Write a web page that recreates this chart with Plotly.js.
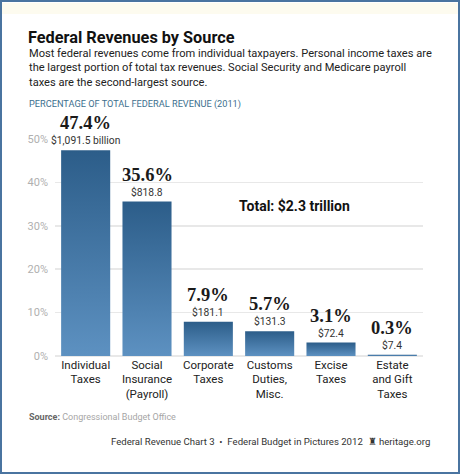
<!DOCTYPE html>
<html>
<head>
<meta charset="utf-8">
<script src="https://cdn.plot.ly/plotly-3.0.1.min.js"></script>
<style>
  html, body { margin: 0; padding: 0; background: #fff; }
  #frame { width: 460px; height: 474px; box-sizing: border-box; border: 2px solid #4a74a0; background: #fff; overflow: hidden; }
  #chart { width: 456px; height: 470px; }
</style>
</head>
<body>
<div id="frame"><div id="chart"></div></div>
<script>
// ---- data ----
const categories = ['Individual Taxes', 'Social Insurance (Payroll)', 'Corporate Taxes', 'Customs Duties, Misc.', 'Excise Taxes', 'Estate and Gift Taxes'];
const tickLabels = ['Individual<br>Taxes', 'Social<br>Insurance<br>(Payroll)', 'Corporate<br>Taxes', 'Customs<br>Duties,<br>Misc.', 'Excise<br>Taxes', 'Estate<br>and Gift<br>Taxes'];
const percentShare = [47.4, 35.6, 7.9, 5.7, 3.1, 0.3];
const dollarLabels = ['$1,091.5 billion', '$818.8', '$181.1', '$131.3', '$72.4', '$7.4'];
const yTickVals = [0, 10, 20, 30, 40, 50];
const yTickText = ['0%', '10%', '20%', '30%', '40%', '50%'];
const totalLabel = 'Total: $2.3 trillion';

// ---- layout geometry (div pixels) ----
const W = 456, H = 470;
const M = { l: 53.35, r: 34.8, t: 137, b: 116 };
const PW = W - M.l - M.r, PH = H - M.t - M.b;
const OFF = 2; // frame border
function px(xPage) { return (xPage - OFF - M.l) / PW; }
function py(yPage) { return (H - M.b - (yPage - OFF)) / PH; }

const SANS = 'Roboto, "Liberation Sans", sans-serif';
const SERIF = '"Liberation Serif", "DejaVu Serif", serif';

const annotations = [];

// value labels above bars
categories.forEach((c, i) => {
  annotations.push({
    x: c, y: percentShare[i], xref: 'x', yref: 'y',
    text: percentShare[i].toFixed(1) + '%', showarrow: false,
    xanchor: 'center', yanchor: 'middle', yshift: 27, borderpad: 0,
    font: { family: SERIF, size: 18.5, color: '#1a1a1a', weight: 'bold' }
  });
  annotations.push({
    x: c, y: percentShare[i], xref: 'x', yref: 'y',
    text: dollarLabels[i], showarrow: false,
    xanchor: 'center', yanchor: 'middle', yshift: 9.5, borderpad: 0,
    font: { family: SANS, size: 10.3, color: '#333' }
  });
});

// total label
annotations.push({
  xref: 'paper', yref: 'paper', x: px(237), y: py(206),
  xanchor: 'left', yanchor: 'middle', showarrow: false,
  text: '<b>' + totalLabel + '</b>',
  font: { family: SANS, size: 14, color: '#111' }
});

// subtitle
annotations.push({
  xref: 'paper', yref: 'paper', x: px(27), y: py(45),
  xanchor: 'left', yanchor: 'top', align: 'left', showarrow: false,
  text: 'Most federal revenues come from individual taxpayers. Personal income taxes are<br>the largest portion of total tax revenues. Social Security and Medicare payroll<br>taxes are the second-largest source.',
  font: { family: SANS, size: 11.1, color: '#222' }
});

// unit heading
annotations.push({
  xref: 'paper', yref: 'paper', x: px(27), y: py(104),
  xanchor: 'left', yanchor: 'middle', showarrow: false,
  text: 'PERCENTAGE OF TOTAL FEDERAL REVENUE (2011)',
  font: { family: SANS, size: 9.2, color: '#3d6f8e' }
});

// source
annotations.push({
  xref: 'paper', yref: 'paper', x: px(27), y: py(417),
  xanchor: 'left', yanchor: 'middle', showarrow: false,
  text: '<b>Source:</b> <span style="color:#a6a6a6">Congressional Budget Office</span>',
  font: { family: SANS, size: 9, color: '#666' }
});

// footer
annotations.push({
  xref: 'paper', yref: 'paper', x: px(432), y: py(441),
  xanchor: 'right', yanchor: 'middle', showarrow: false,
  text: 'Federal Revenue Chart 3  \u2022  Federal Budget in Pictures 2012  \u265C heritage.org',
  font: { family: SANS, size: 9.6, color: '#333' }
});

const trace = {
  type: 'bar',
  x: categories,
  y: percentShare,
  marker: { color: '#4a7dad', line: { width: 0 } },
  cliponaxis: false,
  hoverinfo: 'skip'
};

const layout = {
  width: W, height: H,
  margin: { l: M.l, r: M.r, t: M.t, b: M.b, pad: 0, autoexpand: false },
  paper_bgcolor: '#ffffff', plot_bgcolor: '#ffffff',
  showlegend: false,
  bargap: 0.2,
  title: {
    text: 'Federal Revenues by Source',
    xref: 'container', yref: 'container',
    x: 26 / W, xanchor: 'left',
    y: 1 - 35 / H, yanchor: 'middle',
    font: { family: SANS, size: 16.3, color: '#111', weight: 'bold' }
  },
  xaxis: {
    type: 'category', range: [-0.5, 5.5],
    tickvals: categories, ticktext: tickLabels,
    tickfont: { family: SANS, size: 11.5, color: '#222' },
    ticklabelstandoff: 0,
    showgrid: false, zeroline: false, showline: false, ticks: '', fixedrange: true
  },
  yaxis: {
    range: [0, 50], tickvals: yTickVals, ticktext: yTickText,
    showgrid: true, gridcolor: '#e8e8e8', gridwidth: 1.5,
    zeroline: true, zerolinecolor: '#e8e8e8', zerolinewidth: 1.5,
    showline: false, ticks: '', ticklabelstandoff: 6,
    tickfont: { family: SANS, size: 11, color: '#b0b0b0' }, fixedrange: true
  },
  shapes: [{
    type: 'rect', xref: 'paper', yref: 'paper', layer: 'below',
    x0: px(2), x1: px(458), y0: py(3), y1: py(14),
    fillcolor: '#fdfbef', line: { width: 0 }
  }],
  annotations: annotations
};

Plotly.newPlot('chart', [trace], layout, { staticPlot: true, displayModeBar: false }).then(gd => {
  const svg = gd.querySelector('svg.main-svg');
  const ns = 'http://www.w3.org/2000/svg';
  let defs = svg.querySelector('defs');
  if (!defs) { defs = document.createElementNS(ns, 'defs'); svg.insertBefore(defs, svg.firstChild); }
  const grad = document.createElementNS(ns, 'linearGradient');
  grad.setAttribute('id', 'barGrad');
  grad.setAttribute('x1', '0'); grad.setAttribute('y1', '0');
  grad.setAttribute('x2', '0'); grad.setAttribute('y2', '1');
  [['0', '#2c5d89'], ['1', '#5d91c1']].forEach(([o, c]) => {
    const s = document.createElementNS(ns, 'stop');
    s.setAttribute('offset', o); s.setAttribute('stop-color', c);
    grad.appendChild(s);
  });
  defs.appendChild(grad);
  gd.querySelectorAll('.barlayer .point path').forEach(p => { p.style.fill = 'url(#barGrad)'; });
});
</script>
</body>
</html>
